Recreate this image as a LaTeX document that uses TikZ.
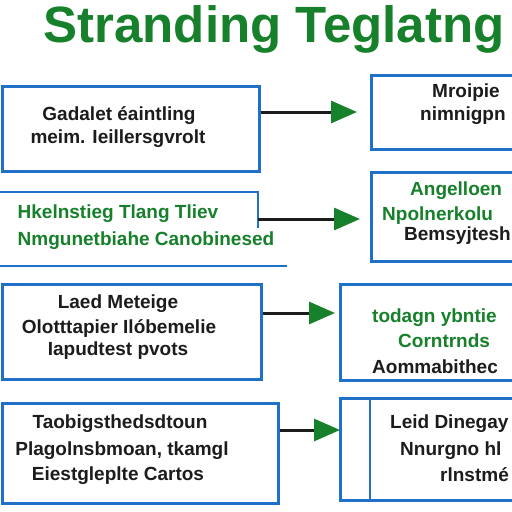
\documentclass[tikz,border=0pt]{standalone}
\usepackage{fontspec}
\setmainfont{Liberation Sans}
\usetikzlibrary{arrows.meta}
\definecolor{tgreen}{RGB}{22,128,42}
\definecolor{boxblue}{RGB}{30,112,200}
\definecolor{ink}{RGB}{28,28,28}
\begin{document}
\begin{tikzpicture}[x=1pt,y=-1pt,
  frame/.style={draw=boxblue,line width=2.5pt,inner sep=0pt,anchor=north west},
  txt/.style={font=\fontsize{19}{22}\selectfont\bfseries,inner sep=0pt},
  flow/.style={ink,line width=3pt,-{Triangle[length=26pt,width=22pt,color=tgreen]}}]
\useasboundingbox (0,0) rectangle (512,512);
\clip (0,0) rectangle (512,512);
\fill[white] (0,0) rectangle (512,512);
\node[font=\fontsize{51}{56}\selectfont\bfseries,text=tgreen,anchor=base,inner sep=0pt] (title) at (274,42) {Stranding Teglatng};
\node[frame,minimum width=257pt,minimum height=85pt] (l1) at (1,85) {};
\draw[boxblue,line width=2.5pt] (0,192) -- (258,192) -- (258,228) (0,266) -- (287,266);
\coordinate (l2) at (258,219);
\node[frame,minimum width=259pt,minimum height=95pt] (l3) at (1,283) {};
\node[frame,minimum width=276pt,minimum height=100pt] (l4) at (1,402) {};
\node[frame,minimum width=150pt,minimum height=74pt] (r1) at (370,74) {};
\node[frame,minimum width=150pt,minimum height=89pt] (r2) at (370,171) {};
\node[frame,minimum width=180pt,minimum height=96pt] (r3) at (339,283) {};
\node[frame,minimum width=180pt,minimum height=102pt] (r4) at (339,397) {};
\draw[boxblue,line width=2.5pt] (r4.north west) ++(31,0) -- ++(0,102);
\foreach \n/\a/\x/\y/\c/\t in {
  l1a/base/119/120/ink/Gadalet éaintling,
  l1b/base/118/143/ink/meim. Ieillersgvrolt,
  l2a/base/118/218/tgreen/Hkelnstieg Tlang Tliev,
  l2b/base/146/245/tgreen/Nmgunetbiahe Canobinesed,
  l3a/base/118/308/ink/Laed Meteige,
  l3b/base/119/333/ink/Olotttapier Ilóbemelie,
  l3c/base/118/355/ink/Iapudtest pvots,
  l4a/base/120/428/ink/Taobigsthedsdtoun,
  l4b/base/122/455/ink/{Plagolnsbmoan, tkamgl},
  l4c/base/118/480/ink/Eiestgleplte Cartos,
  r1a/base west/432/97/ink/Mroipie,
  r1b/base west/420/120/ink/nimnigpn,
  r2a/base west/410/195/tgreen/Angelloen,
  r2b/base west/382/220/tgreen/Npolnerkolu,
  r2c/base west/404/240/ink/Bemsyjtesh,
  r3a/base west/372/322/tgreen/todagn ybntie,
  r3b/base west/398/347/tgreen/Corntrnds,
  r3c/base west/372/373/ink/Aommabithec,
  r4a/base west/390/428/ink/Leid Dinegay,
  r4b/base west/400/455/ink/Nnurgno hl,
  r4c/base west/440/481/ink/rlnstmé}
  \node[txt,anchor=\a,text=\c] (\n) at (\x,\y) {\t};
\coordinate (h1) at (357,112);
\coordinate (h2) at (360,219);
\coordinate (h3) at (335,313);
\coordinate (h4) at (340,430);
\draw[flow] (l1.east |- h1) -- (h1);
\draw[flow] (l2) -- (h2);
\draw[flow] (l3.east |- h3) -- (h3);
\draw[flow] (l4.east |- h4) -- (h4);
\end{tikzpicture}
\end{document}
